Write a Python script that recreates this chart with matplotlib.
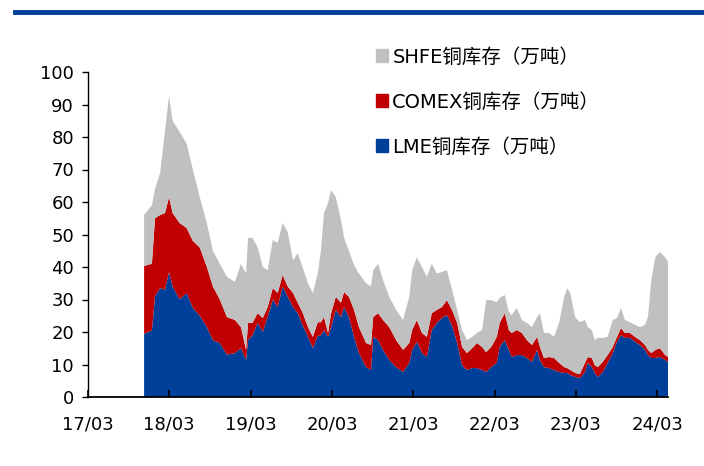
import numpy as np
import pandas as pd
import matplotlib
matplotlib.use("Agg")
import matplotlib.pyplot as plt
import matplotlib.dates as mdates
from matplotlib.patches import Patch
from matplotlib.lines import Line2D

plt.rcParams['font.family'] = ['DejaVu Sans', 'Noto Sans CJK SC']

# 日期（周度数据，按图读取）
fechas = ['2017-11-08', '2017-12-13', '2017-12-27', '2018-01-19', '2018-02-10', '2018-02-28',
          '2018-03-16', '2018-04-17', '2018-05-18', '2018-06-15', '2018-07-16', '2018-08-17',
          '2018-09-13', '2018-10-14', '2018-11-15', '2018-12-21', '2019-01-17', '2019-02-09',
          '2019-02-18', '2019-03-10', '2019-04-02', '2019-04-25', '2019-05-17', '2019-06-09',
          '2019-07-01', '2019-07-23', '2019-08-15', '2019-09-08', '2019-09-29', '2019-10-22',
          '2019-11-14', '2019-12-06', '2019-12-28', '2020-01-11', '2020-01-25', '2020-02-12',
          '2020-02-26', '2020-03-18', '2020-04-10', '2020-04-24', '2020-05-16', '2020-06-08',
          '2020-06-30', '2020-08-01', '2020-08-23', '2020-09-02', '2020-09-24', '2020-10-16',
          '2020-11-13', '2020-12-14', '2021-01-14', '2021-02-11', '2021-02-24', '2021-03-17',
          '2021-04-09', '2021-05-01', '2021-05-23', '2021-06-15', '2021-07-08', '2021-07-30',
          '2021-08-22', '2021-09-14', '2021-10-06', '2021-10-28', '2021-11-20', '2021-12-12',
          '2022-01-04', '2022-01-22', '2022-02-14', '2022-03-11', '2022-03-24', '2022-04-16',
          '2022-05-04', '2022-05-17', '2022-06-09', '2022-07-02', '2022-07-24', '2022-08-16',
          '2022-09-08', '2022-09-21', '2022-10-09', '2022-11-01', '2022-11-23', '2022-12-16',
          '2023-01-08', '2023-01-21', '2023-02-04', '2023-02-26', '2023-03-19', '2023-04-11',
          '2023-04-24', '2023-05-12', '2023-05-25', '2023-06-08', '2023-06-30', '2023-07-22',
          '2023-08-14', '2023-09-02', '2023-09-20', '2023-10-07', '2023-10-30', '2023-11-22',
          '2023-12-14', '2024-01-06', '2024-01-19', '2024-02-03', '2024-02-21', '2024-03-13',
          '2024-04-05', '2024-04-18']

# LME铜库存（万吨）
lme = [19.4, 20.5, 31.0, 33.5, 33.0, 38.5, 34.0, 30.0, 32.0, 27.4, 25.0, 21.5,
       17.5, 16.6, 13.0, 13.5, 15.0, 11.4, 17.5, 19.0, 22.8, 20.0, 24.6, 30.0,
       27.7, 34.0, 30.8, 27.7, 25.8, 22.0, 18.5, 15.0, 18.8, 19.0, 20.6, 18.5,
       21.5, 26.8, 24.6, 27.7, 24.6, 18.5, 13.5, 9.2, 8.3, 18.5, 17.5, 14.5,
       11.4, 9.2, 7.7, 10.5, 14.5, 17.0, 13.5, 12.3, 20.6, 22.8, 24.3, 25.2,
       22.0, 16.6, 9.8, 8.3, 8.9, 8.9, 8.3, 7.7, 9.2, 10.5, 15.4, 17.5,
       14.5, 12.3, 12.9, 12.9, 12.0, 10.8, 14.5, 11.4, 9.2, 8.9, 8.3, 7.7,
       7.4, 7.4, 6.8, 6.2, 5.8, 7.7, 10.5, 9.2, 7.4, 6.2, 7.7, 10.5,
       13.5, 17.0, 19.0, 18.2, 18.2, 17.0, 16.0, 14.5, 12.9, 12.0, 12.0, 12.3,
       11.4, 10.8]

# COMEX铜库存（万吨）
comex = [20.9, 20.5, 24.0, 22.5, 23.6, 23.0, 22.6, 23.5, 20.0, 20.6, 21.0, 18.5,
         16.5, 13.4, 11.6, 10.2, 6.5, 3.1, 5.3, 3.8, 3.0, 4.3, 3.1, 3.5,
         4.3, 3.5, 3.2, 4.3, 3.2, 3.8, 3.0, 3.5, 4.2, 4.0, 4.0, 1.2,
         4.3, 4.0, 4.4, 4.6, 6.2, 8.3, 8.0, 7.4, 7.7, 6.1, 8.3, 9.2,
         10.1, 8.3, 6.8, 6.1, 6.1, 6.7, 6.2, 6.2, 5.2, 4.0, 3.4, 4.6,
         4.8, 6.2, 5.6, 5.2, 6.1, 7.7, 7.1, 6.1, 6.2, 8.0, 7.4, 8.3,
         6.1, 7.4, 7.7, 6.8, 5.5, 5.2, 4.0, 4.0, 2.8, 3.4, 3.7, 2.8,
         1.8, 1.5, 1.5, 1.2, 1.2, 2.8, 1.8, 2.8, 2.4, 3.0, 3.1, 2.4,
         1.9, 1.5, 2.2, 1.5, 1.5, 1.5, 1.5, 1.5, 1.6, 1.5, 2.5, 2.7,
         1.5, 1.5]

# SHFE铜库存（万吨）
shfe = [15.7, 18.0, 9.0, 13.0, 25.4, 31.1, 28.4, 28.0, 26.0, 22.0, 15.5, 13.5,
        11.0, 11.0, 12.4, 11.7, 19.5, 23.5, 26.2, 26.2, 20.2, 15.7, 11.3, 14.8,
        15.4, 16.0, 16.8, 10.0, 15.3, 13.9, 13.5, 13.5, 15.0, 22.0, 32.0, 40.0,
        37.9, 30.7, 25.5, 16.7, 14.2, 13.8, 16.5, 18.4, 18.0, 14.4, 15.2, 12.3,
        9.3, 9.3, 9.2, 14.2, 18.4, 19.3, 20.3, 18.5, 15.2, 11.2, 10.8, 9.2,
        6.2, 4.0, 5.2, 4.0, 3.5, 3.1, 5.2, 16.0, 14.4, 10.7, 7.7, 5.6,
        5.6, 5.5, 6.8, 4.0, 5.3, 5.5, 6.1, 10.4, 7.7, 7.4, 6.5, 12.3,
        21.6, 24.6, 23.7, 17.2, 16.0, 13.2, 9.2, 8.6, 7.7, 9.0, 7.4, 5.6,
        8.3, 5.8, 6.2, 4.0, 3.3, 3.7, 4.0, 6.2, 10.1, 22.5, 28.5, 29.6,
        30.1, 29.2]

etiquetas = ['LME铜库存（万吨）', 'COMEX铜库存（万吨）', 'SHFE铜库存（万吨）']
colores = ['#00409a', '#c00000', '#c0c0c0']

fechas = pd.to_datetime(fechas)

fig = plt.figure(figsize=(7.04, 4.66), dpi=100)
ax = fig.add_axes([88/704, 1-397/466, (668-88)/704, (397-72)/466])

ax.stackplot(fechas, lme, comex, shfe, colors=colores, linewidth=0)

ax.set_ylim(0, 100)
ax.set_yticks(range(0, 101, 10))
ax.set_xlim(pd.Timestamp('2017-03-01'), fechas[-1])
ax.set_xticks(pd.date_range('2017-03-01', '2024-03-01', freq='12MS'))
ax.xaxis.set_major_formatter(mdates.DateFormatter('%y/%m'))

for lado in ['top', 'right']:
    ax.spines[lado].set_visible(False)
ax.spines['bottom'].set_linewidth(1.3)
ax.spines['left'].set_linewidth(1.0)
ax.tick_params(axis='x', direction='in', length=5, width=1.2, pad=13, labelsize=13)
ax.tick_params(axis='y', direction='out', length=4, width=1.0, pad=6, labelsize=13)

# leyenda: de arriba hacia abajo SHFE, COMEX, LME
manijas = [Patch(color=colores[i]) for i in [2, 1, 0]]
textos = [etiquetas[i] for i in [2, 1, 0]]
fig.legend(manijas, textos, loc='upper left', bbox_to_anchor=(366/704, 1-38/466),
           frameon=False, fontsize=14, handlelength=0.65, handleheight=0.65,
           handletextpad=0.2, labelspacing=1.33, borderpad=0)

# linea azul superior
fig.add_artist(Line2D([15/704, 1.0], [1-12/466, 1-12/466], color='#00409a', lw=3.5))

fig.savefig('out.png', dpi=100)
